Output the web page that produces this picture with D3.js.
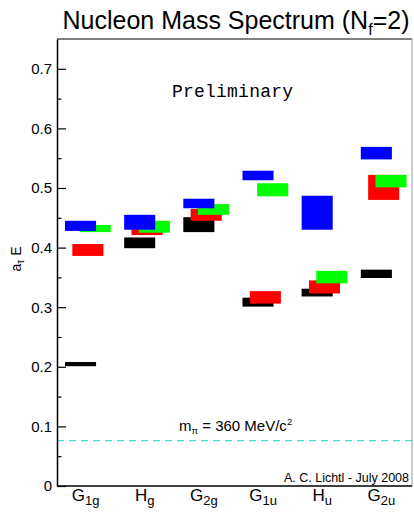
<!DOCTYPE html>
<html>
<head>
<meta charset="utf-8">
<script src="https://cdn.jsdelivr.net/npm/d3@7"></script>
<style>
  html, body { margin: 0; padding: 0; background: #fff; }
  svg { display: block; font-family: "Liberation Sans", Arial, sans-serif; }
</style>
</head>
<body>
<svg id="chart" width="414" height="516"></svg>
<script>
// Irreducible representations (base letter + subscript)
const categories = ["G1g", "Hg", "G2g", "G1u", "Hu", "G2u"];
const catBase = ["G", "H", "G", "G", "H", "G"];
const catSub = ["1g", "g", "2g", "1u", "u", "2u"];

// Energy bands a_t E (low / high edge) for each level, per irrep
const blackLo = [0.201, 0.399, 0.426, 0.301, 0.318, 0.349];
const blackHi = [0.208, 0.417, 0.451, 0.316, 0.331, 0.363];
const redLo   = [0.386, 0.421, 0.445, 0.306, 0.323, 0.480];
const redHi   = [0.406, 0.432, 0.465, 0.327, 0.345, 0.522];
const greenLo = [0.426, 0.425, 0.455, 0.486, 0.340, 0.501];
const greenHi = [0.438, 0.445, 0.473, 0.508, 0.361, 0.522];
const blueLo  = [0.428, 0.430, 0.466, 0.513, 0.430, 0.548];
const blueHi  = [0.445, 0.455, 0.482, 0.529, 0.487, 0.569];

// Pion mass threshold line
const pionLevel = 0.076;

// Axis ticks
const yMajor = [0, 0.1, 0.2, 0.3, 0.4, 0.5, 0.6, 0.7];
const yMinor = [0.05, 0.15, 0.25, 0.35, 0.45, 0.55, 0.65];

(function draw() {
  const svg = d3.select("#chart");
  const plotL = 57, plotR = 412, plotT = 39, plotB = 486;

  const x = d3.scaleBand().domain(categories).range([plotL, plotR]).padding(0);
  const y = d3.scaleLinear().domain([0, 0.75]).range([plotB, plotT]);

  // Series in drawing order (back to front), with horizontal stagger index
  const series = [
    { lo: blackLo, hi: blackHi, color: "#000000", shift: 0 },
    { lo: redLo,   hi: redHi,   color: "#ff0000", shift: 1 },
    { lo: greenLo, hi: greenHi, color: "#00ff00", shift: 2 },
    { lo: blueLo,  hi: blueHi,  color: "#0000ff", shift: 0 }
  ];

  const bw = x.bandwidth();
  const boxW = bw * 0.525;
  const inset = bw * 0.135;
  const step = bw * 0.124;

  series.forEach(s => {
    svg.append("g")
      .selectAll("rect")
      .data(categories)
      .join("rect")
      .attr("x", (c) => x(c) + inset + s.shift * step)
      .attr("width", boxW)
      .attr("y", (c, i) => y(s.hi[i]))
      .attr("height", (c, i) => y(s.lo[i]) - y(s.hi[i]))
      .attr("fill", s.color);
  });

  // Pion threshold (dashed)
  svg.append("line")
    .attr("x1", plotL).attr("x2", plotR)
    .attr("y1", y(pionLevel)).attr("y2", y(pionLevel))
    .attr("stroke", "#40e0d0")
    .attr("stroke-width", 1.2)
    .attr("stroke-dasharray", "7,5");

  const mt = svg.append("text")
    .attr("x", 179).attr("y", 431)
    .attr("font-size", 15).attr("fill", "#000");
  mt.append("tspan").text("m");
  mt.append("tspan").attr("font-size", 9.5).attr("dy", 3).text("π");
  mt.append("tspan").attr("dy", -3).text(" = 360 MeV/c");
  mt.append("tspan").attr("font-size", 9.5).attr("dy", -6).text("2");

  // Frame
  svg.append("line").attr("x1", plotL).attr("x2", plotR).attr("y1", plotT).attr("y2", plotT)
    .attr("stroke", "#000").attr("stroke-width", 1);
  svg.append("line").attr("x1", plotR).attr("x2", plotR).attr("y1", plotT).attr("y2", plotB)
    .attr("stroke", "#999").attr("stroke-width", 1);
  svg.append("line").attr("x1", plotL).attr("x2", plotR).attr("y1", plotB).attr("y2", plotB)
    .attr("stroke", "#000").attr("stroke-width", 1.5);

  // Y axis: major ticks with labels, minor ticks without
  const yAxis = d3.axisLeft(y).tickValues(yMajor)
    .tickFormat(d => d === 0 ? "0" : d3.format(".1f")(d))
    .tickSizeInner(-9).tickSizeOuter(0).tickPadding(5);
  const gy = svg.append("g").attr("transform", `translate(${plotL},0)`).call(yAxis);
  gy.select(".domain").attr("stroke-width", 1.5);
  gy.selectAll(".tick line").attr("stroke-width", 1.2);
  gy.selectAll(".tick text")
    .attr("font-size", 15).attr("font-family", "Liberation Sans, Arial, sans-serif").attr("fill", "#000");

  const yAxisMinor = d3.axisLeft(y).tickValues(yMinor).tickFormat("")
    .tickSizeInner(-4.5).tickSizeOuter(0);
  const gm = svg.append("g").attr("transform", `translate(${plotL},0)`).call(yAxisMinor);
  gm.select(".domain").remove();
  gm.selectAll(".tick line").attr("stroke-width", 1.2);

  // Category labels with subscripts
  const xl = svg.append("g").selectAll("text")
    .data(categories)
    .join("text")
    .attr("x", c => x(c) + bw / 2 - 1)
    .attr("y", 501)
    .attr("text-anchor", "middle")
    .attr("font-size", 17)
    .attr("fill", "#000");
  xl.append("tspan").text((c, i) => catBase[i]);
  xl.append("tspan").attr("font-size", 13).attr("dy", 4).text((c, i) => catSub[i]);

  // Y axis title a_t E
  const yt = svg.append("text")
    .attr("transform", "translate(21,259) rotate(-90)")
    .attr("text-anchor", "middle")
    .attr("font-size", 14).attr("fill", "#000");
  yt.append("tspan").text("a");
  yt.append("tspan").attr("font-size", 10).attr("dy", 3).text("τ");
  yt.append("tspan").attr("dy", -3).text(" E");

  // Title
  const title = svg.append("text")
    .attr("x", 236).attr("y", 29)
    .attr("text-anchor", "middle")
    .attr("font-size", 25).attr("fill", "#000");
  title.append("tspan").text("Nucleon Mass Spectrum (N");
  title.append("tspan").attr("font-size", 16).attr("dy", 6).text("f");
  title.append("tspan").attr("dy", -6).text("=2)");

  // Annotations
  svg.append("text")
    .attr("x", 172).attr("y", 97)
    .attr("font-family", "Liberation Mono, Courier New, monospace")
    .attr("font-size", 18)
    .attr("textLength", 121).attr("lengthAdjust", "spacing")
    .attr("fill", "#000")
    .text("Preliminary");

  svg.append("text")
    .attr("x", 409).attr("y", 482)
    .attr("text-anchor", "end")
    .attr("font-size", 12.5).attr("fill", "#000")
    .text("A. C. Lichtl - July 2008");
})();
</script>
</body>
</html>
